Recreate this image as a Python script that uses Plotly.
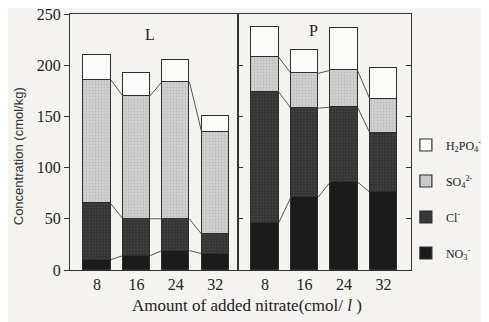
import plotly.graph_objects as go

# ---- data ----
doses = ["8", "16", "24", "32"]
ions = ["NO3", "Cl", "SO4", "H2PO4"]
ion_labels = ["NO<sub>3</sub><sup>-</sup>", "Cl<sup>-</sup>",
              "SO<sub>4</sub><sup>2-</sup>", "H<sub>2</sub>PO<sub>4</sub><sup>-</sup>"]

L_NO3 = [10, 14, 19, 16]
L_Cl = [55, 36, 31, 19]
L_SO4 = [121, 120, 134, 100]
L_H2PO4 = [24, 22, 21, 15]

P_NO3 = [46, 71, 86, 76]
P_Cl = [128, 87, 73, 58]
P_SO4 = [34, 34, 36, 33]
P_H2PO4 = [29, 23, 41, 30]

y_ticks = [0, 50, 100, 150, 200, 250]

# ---- styles ----
BG = "#f4f3ef"
EDGE = "#2e2e2e"
fills = {
    "NO3": dict(color="#1b1b1b"),
    "Cl": dict(color="#3a3a3a", pattern=dict(shape=".", fgcolor="#5a5a5a", bgcolor="#333333", size=3, solidity=0.3)),
    "SO4": dict(color="#cdcdcd", pattern=dict(shape=".", fgcolor="#a0a0a0", bgcolor="#d2d2d2", size=3, solidity=0.3)),
    "H2PO4": dict(color="#fbfbf9"),
}
BW = 0.69
xs = list(range(len(doses)))

fig = go.Figure()

panels = [
    ("x", "y", [L_NO3, L_Cl, L_SO4, L_H2PO4]),
    ("x2", "y2", [P_NO3, P_Cl, P_SO4, P_H2PO4]),
]
ranks = {"H2PO4": 1, "SO4": 2, "Cl": 3, "NO3": 4}

for pi, (xa, ya, series) in enumerate(panels):
    for ion, lab, vals in zip(ions, ion_labels, series):
        m = dict(line=dict(color=EDGE, width=1.2))
        f = fills[ion]
        m["color"] = f["color"]
        if "pattern" in f:
            m["pattern"] = f["pattern"]
        fig.add_trace(go.Bar(
            x=xs, y=vals, width=BW, name=lab, marker=m,
            xaxis=xa, yaxis=ya, showlegend=(pi == 0),
            legendgroup=ion, legendrank=ranks[ion],
        ))
    # series connector lines for cumulative tops of NO3, Cl, SO4
    cum = [0] * len(xs)
    for k in range(3):
        cum = [c + v for c, v in zip(cum, series[k])]
        lx, ly = [], []
        for i in range(len(xs) - 1):
            lx += [xs[i] + BW / 2, xs[i + 1] - BW / 2, None]
            ly += [cum[i], cum[i + 1], None]
        fig.add_trace(go.Scatter(
            x=lx, y=ly, mode="lines", line=dict(color="#444444", width=0.9),
            xaxis=xa, yaxis=ya, showlegend=False, hoverinfo="skip",
        ))

SERIF = "Liberation Serif"
axis_common = dict(
    showline=True, linecolor="#333333", linewidth=1.2, mirror=True,
    showgrid=False, zeroline=False,
)
fig.update_layout(
    width=489, height=322, autosize=False,
    margin=dict(l=62, r=86, t=6, b=60, autoexpand=False),
    paper_bgcolor=BG, plot_bgcolor=BG,
    barmode="stack", bargap=0,
    font=dict(family=SERIF, size=15, color="#222222"),
    xaxis=dict(domain=[0, 0.4927], range=[-0.685, 3.58], tickvals=xs, ticktext=doses,
               ticks="", tickfont=dict(size=16), automargin=False, **axis_common),
    xaxis2=dict(domain=[0.4927, 1], range=[-0.684, 3.70], tickvals=xs, ticktext=doses,
                ticks="", tickfont=dict(size=16), automargin=False, **axis_common),
    yaxis=dict(range=[0, 250], tickvals=y_ticks, ticks="outside", ticklen=5,
               tickcolor="#333333", tickfont=dict(size=16), anchor="x",
               automargin=False, ticklabeloverflow="allow", **axis_common),
    yaxis2=dict(range=[0, 250], tickvals=y_ticks, ticks="inside", ticklen=5,
                tickcolor="#333333", showticklabels=False, anchor="x2",
                showline=True, linecolor="#333333", linewidth=1.2, mirror="allticks",
                showgrid=False, zeroline=False, automargin=False),
    legend=dict(x=0.985, y=0.545, xanchor="left", yanchor="top",
                bgcolor="rgba(0,0,0,0)", font=dict(family=SERIF, size=12),
                traceorder="grouped", tracegroupgap=17),
    annotations=[
        dict(text="Concentration (cmol/kg)", textangle=-90, x=-0.152, y=0.445,
             xref="paper", yref="paper", xanchor="center", yanchor="middle",
             showarrow=False,
             font=dict(family="Liberation Sans", size=13, color="#333333")),
        dict(text="Amount of added nitrate(cmol/ <i>l</i> )", x=0.519, y=-0.14,
             xref="paper", yref="paper", xanchor="center", yanchor="middle",
             showarrow=False, font=dict(family=SERIF, size=17)),
        dict(text="L", x=0.235, y=0.92, xref="paper", yref="paper",
             xanchor="center", yanchor="middle",
             showarrow=False, font=dict(family=SERIF, size=16)),
        dict(text="P", x=0.713, y=0.935, xref="paper", yref="paper",
             xanchor="center", yanchor="middle",
             showarrow=False, font=dict(family=SERIF, size=16)),
    ],
)

fig.write_html("out.html")
